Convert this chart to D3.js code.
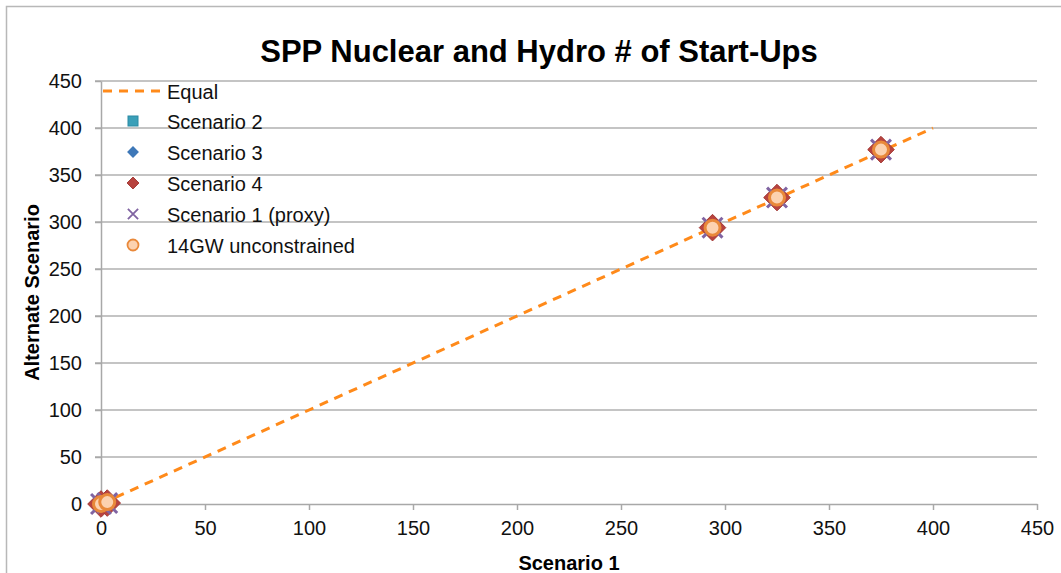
<!DOCTYPE html>
<html>
<head>
<meta charset="utf-8">
<script src="https://cdn.jsdelivr.net/npm/d3@7"></script>
<style>
  body { margin: 0; background: #fff; }
  svg { font-family: "Liberation Sans", Arial, sans-serif; }
</style>
</head>
<body>
<div id="chart"></div>
<script>
// data
const xTicks = [0, 50, 100, 150, 200, 250, 300, 350, 400, 450];
const yTicks = [0, 50, 100, 150, 200, 250, 300, 350, 400, 450];
const equalLine = [0, 400];
const scenario1X = [0, 3, 294, 325, 375];
const scenario2Y = [0, 2, 294, 326, 377];
const scenario3Y = [0, 2, 294, 326, 377];
const scenario4Y = [0, 1, 294, 326, 377];
const scenario1ProxyY = [0, 1, 294, 326, 377];
const unconstrainedY = [0, 2, 294, 326, 377];

const seriesNames = ["Scenario 2", "Scenario 3", "Scenario 4", "Scenario 1 (proxy)", "14GW unconstrained"];

const width = 1061, height = 573;
const margin = { left: 101, right: 24, top: 81, bottom: 69 };

const svg = d3.select("#chart").append("svg")
  .attr("width", width)
  .attr("height", height);

// outer frame
svg.append("rect")
  .attr("x", 6.5).attr("y", 6.5)
  .attr("width", width + 20).attr("height", height + 20)
  .attr("fill", "none").attr("stroke", "#b8b8b8").attr("stroke-width", 1.5);

const x = d3.scaleLinear().domain([0, 450]).range([margin.left, width - margin.right]);
const y = d3.scaleLinear().domain([0, 450]).range([height - margin.bottom, margin.top]);

// gridlines
svg.append("g")
  .selectAll("line")
  .data(yTicks.filter(d => d > 0))
  .join("line")
  .attr("x1", x(0) - 6).attr("x2", x(450))
  .attr("y1", d => y(d)).attr("y2", d => y(d))
  .attr("stroke", "#b0b0b0").attr("stroke-width", 1.5);

// x axis
const xAxis = svg.append("g")
  .attr("transform", `translate(0,${y(0)})`)
  .call(d3.axisBottom(x).tickValues(xTicks).tickSize(6).tickSizeOuter(0).tickPadding(11));
xAxis.select(".domain").attr("stroke", "#a8a8a8").attr("stroke-width", 1.5);
xAxis.selectAll(".tick line").attr("stroke", "#a8a8a8").attr("stroke-width", 1.5);
xAxis.selectAll("text").attr("font-size", 20).attr("fill", "#111").attr("font-family", "Liberation Sans, Arial, sans-serif");

// y axis
const yAxis = svg.append("g")
  .attr("transform", `translate(${x(0)},0)`)
  .call(d3.axisLeft(y).tickValues(yTicks).tickSize(6).tickSizeOuter(0).tickPadding(13));
yAxis.select(".domain").attr("stroke", "#a8a8a8").attr("stroke-width", 1.5);
yAxis.selectAll(".tick line").attr("stroke", "#a8a8a8").attr("stroke-width", 1.5);
yAxis.selectAll("text").attr("font-size", 20).attr("fill", "#111").attr("font-family", "Liberation Sans, Arial, sans-serif");

// equal line
svg.append("line")
  .attr("x1", x(equalLine[0])).attr("y1", y(equalLine[0]))
  .attr("x2", x(equalLine[1])).attr("y2", y(equalLine[1]))
  .attr("stroke", "#ff8a1a").attr("stroke-width", 3)
  .attr("stroke-dasharray", "9,7");

// marker drawers
const markers = {
  "Scenario 2": (g, cx, cy) => g.append("rect")
    .attr("x", cx - 5).attr("y", cy - 5).attr("width", 10).attr("height", 10)
    .attr("fill", "#3a9fb8").attr("stroke", "#2b8aa3"),
  "Scenario 3": (g, cx, cy) => g.append("path")
    .attr("d", d3.symbol(d3.symbolDiamond2, 90)())
    .attr("transform", `translate(${cx},${cy})`)
    .attr("fill", "#3e78b8"),
  "Scenario 4": (g, cx, cy, big) => g.append("path")
    .attr("d", d3.symbol(d3.symbolDiamond2, big ? 450 : 90)())
    .attr("transform", `translate(${cx},${cy})`)
    .attr("fill", "#b8433f").attr("stroke", "#a33a36"),
  "Scenario 1 (proxy)": (g, cx, cy, big) => g.append("path")
    .attr("d", d3.symbol(d3.symbolX, big ? 260 : 70)())
    .attr("transform", `translate(${cx},${cy})`)
    .attr("fill", "none").attr("stroke", "#8064a2").attr("stroke-width", big ? 3 : 1.8),
  "14GW unconstrained": (g, cx, cy, big) => g.append("circle")
    .attr("cx", cx).attr("cy", cy).attr("r", big ? 7.5 : 5.5)
    .attr("fill", "#fcd2b0").attr("stroke", "#e9893a").attr("stroke-width", big ? 3 : 1.8)
};

const seriesY = [scenario2Y, scenario3Y, scenario4Y, scenario1ProxyY, unconstrainedY];

const pts = svg.append("g");
seriesNames.forEach((name, i) => {
  seriesY[i].forEach((v, j) => {
    markers[name](pts, x(scenario1X[j]), y(v), true);
  });
});

// legend
const legend = svg.append("g");
legend.append("line")
  .attr("x1", 103).attr("x2", 160).attr("y1", 91).attr("y2", 91)
  .attr("stroke", "#ff8a1a").attr("stroke-width", 3).attr("stroke-dasharray", "9,7");
legend.append("text").attr("x", 167).attr("y", 99).attr("font-size", 20).attr("fill", "#111").text("Equal");

seriesNames.forEach((name, i) => {
  const ly = 121 + i * 31;
  markers[name](legend, 133, ly, false);
  legend.append("text")
    .attr("x", 167).attr("y", ly + 8)
    .attr("font-size", 20).attr("fill", "#111")
    .text(name);
});

// title and axis labels
svg.append("text")
  .attr("x", 539).attr("y", 62)
  .attr("text-anchor", "middle")
  .attr("font-size", 31).attr("font-weight", "bold")
  .text("SPP Nuclear and Hydro # of Start-Ups");

svg.append("text")
  .attr("x", x(225)).attr("y", 570)
  .attr("text-anchor", "middle")
  .attr("font-size", 20).attr("font-weight", "bold")
  .text("Scenario 1");

svg.append("text")
  .attr("transform", `translate(39,${y(225)}) rotate(-90)`)
  .attr("text-anchor", "middle")
  .attr("font-size", 20).attr("font-weight", "bold")
  .text("Alternate Scenario");
</script>
</body>
</html>
